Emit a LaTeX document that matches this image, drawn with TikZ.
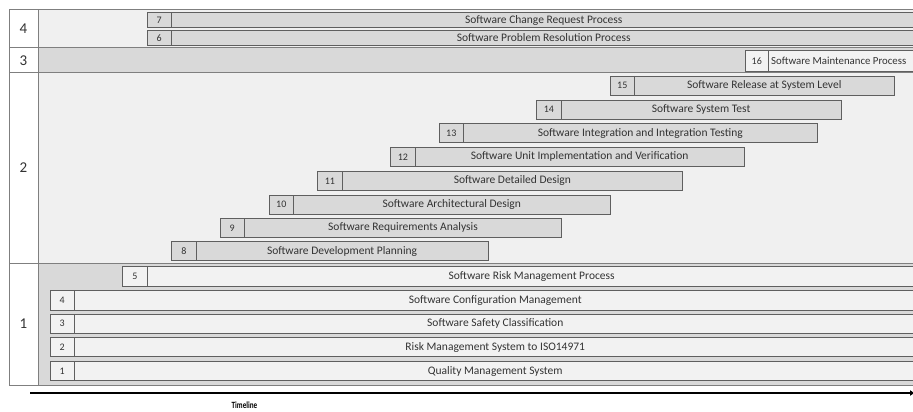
\documentclass[tikz,border=0pt]{standalone}
\usepackage{fontspec}
\setmainfont{Carlito}
\usetikzlibrary{arrows.meta}
\definecolor{lightbg}{HTML}{F0F0F0}
\definecolor{darkbg}{HTML}{D9D9D9}
\definecolor{barfill}{HTML}{D9D9D9}
\definecolor{lightbar}{HTML}{F2F2F2}
\definecolor{gridc}{HTML}{7F7F7F}
\definecolor{barc}{HTML}{5F5F5F}
\definecolor{txt}{HTML}{333333}
\newcommand{\gbar}[8]{%
  \draw[barline, fill=#8] (#2,#3) rectangle (#4,#3+#5);
  \draw[barline] (#2+24.5,#3) -- (#2+24.5,#3+#5);
  \node[ntxt] (n#1) at (#2+12.25,#3+#5/2) {#6};
  \node[btxt] (t#1) at ({(#2+24.5+#4)/2},#3+#5/2) {#7};
}
\begin{document}
\begin{tikzpicture}[x=1pt,y=-1pt,
  every node/.style={text=txt, inner sep=0pt},
  lbl/.style={font=\fontsize{15}{15}\selectfont},
  btxt/.style={font=\fontsize{11.5}{12}\selectfont},
  ntxt/.style={font=\fontsize{10}{10}\selectfont},
  grid/.style={draw=gridc, line width=1pt},
  barline/.style={draw=barc, line width=0.9pt}]
\useasboundingbox (0,0) rectangle (913,412);
\fill[white] (0,0) rectangle (913,412);
% row backgrounds
\fill[lightbg] (38,10) rectangle (916,48);
\fill[darkbg] (38,48) rectangle (916,73);
\fill[lightbg] (38,73) rectangle (916,263);
\fill[darkbg] (38,263) rectangle (916,385);
% grid
\draw[grid] (916,10) -- (9,10) -- (9,385) -- (916,385);
\draw[grid] (38,10) -- (38,385);
\draw[grid] (9,48) -- (916,48);
\draw[grid] (9,73) -- (916,73);
\draw[grid] (9,263) -- (916,263);
% row labels
\node[lbl] (r4) at (23.5,29) {4};
\node[lbl] (r3) at (23.5,61) {3};
\node[lbl] (r2) at (23.5,168) {2};
\node[lbl] (r1) at (23.5,324) {1};
% row 4
\gbar{7}{147}{12.3}{916}{15.4}{7}{Software Change Request Process}{barfill}
\gbar{6}{147}{30.3}{916}{15}{6}{Software Problem Resolution Process}{barfill}
% row 3
\draw[barline, fill=lightbar] (745,50.5) rectangle (930,71.5);
\draw[barline] (768.5,50.5) -- (768.5,71.5);
\node[ntxt] (n16) at (756.75,61) {16};
\node[btxt, font=\fontsize{10.8}{11}\selectfont, anchor=west] (t16) at (771,61) {Software Maintenance Process};
% row 2
\gbar{15}{610}{76}{894}{19}{15}{Software Release at System Level}{barfill}
\gbar{14}{536.7}{100.2}{841}{19}{14}{Software System Test}{barfill}
\gbar{13}{439}{123.5}{817}{19}{13}{Software Integration and Integration Testing}{barfill}
\gbar{12}{390.7}{147.3}{744}{19}{12}{Software Unit Implementation and Verification}{barfill}
\gbar{11}{317.7}{171.3}{682.5}{19}{11}{Software Detailed Design}{barfill}
\gbar{10}{269}{195}{610}{19}{10}{Software Architectural Design}{barfill}
\gbar{9}{220}{218.3}{561.5}{19}{9}{Software Requirements Analysis}{barfill}
\gbar{8}{171.7}{241.7}{488}{19}{8}{Software Development Planning}{barfill}
% row 1
\gbar{5}{122.7}{266.7}{916}{19.3}{5}{Software Risk Management Process}{lightbar}
\gbar{4}{50}{290.7}{916}{19.3}{4}{Software Configuration Management}{lightbar}
\gbar{3}{50}{314}{916}{19.3}{3}{Software Safety Classification}{lightbar}
\gbar{2}{50}{337.7}{916}{19}{2}{Risk Management System to ISO14971}{lightbar}
\gbar{1}{50}{361.7}{916}{19}{1}{Quality Management System}{lightbar}
% timeline
\coordinate (tl0) at (30,393);
\coordinate (tl1) at (915,393);
\draw[line width=2pt, -{Latex[length=5pt,width=6pt]}] (tl0) -- (tl1);
\node[font=\bfseries\fontsize{9.5}{10}\selectfont, xscale=0.75, text=black] (tlab) at (244.5,405) {Timeline};
\end{tikzpicture}
\end{document}
